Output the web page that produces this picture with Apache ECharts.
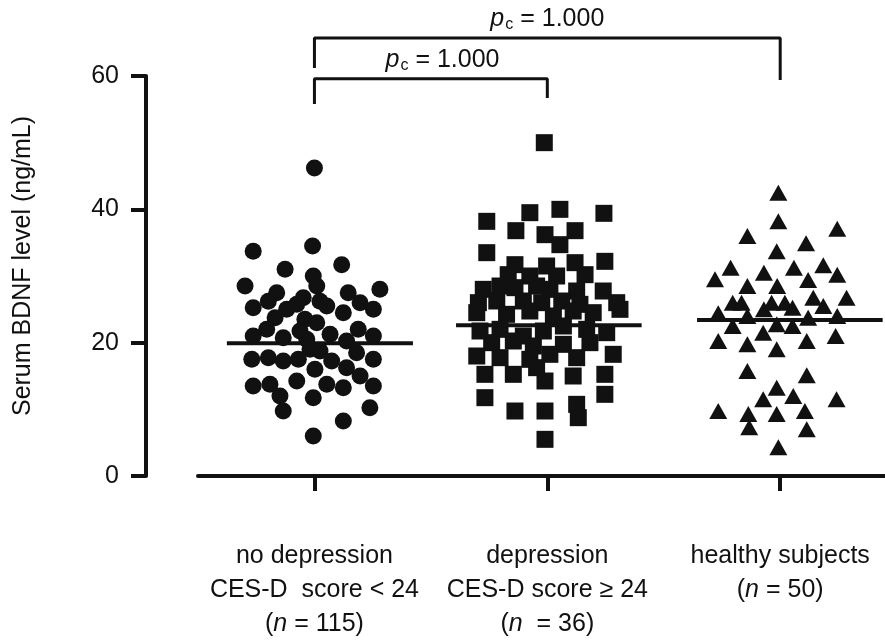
<!DOCTYPE html>
<html><head><meta charset="utf-8">
<script src="https://cdn.jsdelivr.net/npm/echarts@6/dist/echarts.min.js"></script>
<style>html,body{margin:0;padding:0;background:#fff}#c{width:885px;height:641px}</style>
</head><body><div id="c"></div>
<script>
// ---- categories / tick labels ----
const groupLine1 = ['no depression', 'depression', 'healthy subjects'];
const groupLine2 = ['CES-D  score < 24', 'CES-D score \u2265 24', ''];
const groupNText = [' = 115)', '  = 36)', ' = 50)'];
const groupPos = [1, 2, 3];
const yTicks = [0, 20, 40, 60];

// ---- no depression (circles) ----
const g1X = [1.00,0.737,0.992,0.874,1.117,0.702,0.995,1.010,1.281,0.838,1.145,0.952,0.802,0.737,1.196,1.024,1.053,1.253,0.881,0.924,1.124,0.831,0.959,1.010,0.795,0.737,0.866,0.938,1.067,1.188,1.253,1.138,0.967,0.731,0.802,0.866,0.931,0.981,1.024,1.074,1.181,1.253,1.002,1.138,1.196,0.737,0.809,0.924,1.053,1.124,1.253,0.852,0.995,0.866,1.238,1.124,0.995];
const g1Y = [46.2,33.7,34.5,31.0,31.7,28.5,30.0,28.5,28.0,27.5,27.5,26.75,26.2,25.25,26.0,26.2,25.5,25.0,25.0,25.75,24.5,23.75,23.5,23.0,22.0,21.0,20.75,21.75,21.25,22.0,21.0,20.25,20.5,17.5,17.75,17.25,17.5,19.0,18.75,17.25,18.5,17.5,16.0,16.25,15.0,13.5,13.75,14.25,13.75,13.25,13.5,12.0,11.75,9.75,10.25,8.25,6.0];

// ---- depression (squares) ----
const g2X = [1.987,1.740,1.925,2.054,2.243,1.865,1.990,2.119,2.054,1.740,2.247,1.861,1.997,2.119,1.832,1.925,2.040,2.162,1.725,1.797,1.861,1.954,2.011,2.126,2.240,1.704,1.783,1.897,1.976,2.062,2.140,2.298,1.697,1.825,1.925,2.026,2.111,2.197,2.312,1.711,1.797,1.897,1.983,2.069,2.169,2.255,1.761,1.854,1.940,2.069,2.183,1.697,1.797,1.925,2.011,2.126,2.283,1.732,1.854,1.954,1.990,2.111,2.247,1.732,2.247,1.861,1.990,2.126,2.133,1.990];
const g2Y = [50.0,38.2,39.5,40.0,39.4,36.8,36.2,36.8,34.7,33.5,32.2,31.7,31.5,32.0,30.2,30.0,30.0,30.2,28.0,28.5,28.25,28.5,28.0,27.75,27.75,26.0,26.25,26.25,26.0,26.25,25.75,26.0,24.5,24.25,24.75,24.0,24.75,24.5,25.0,21.75,22.0,21.0,21.75,22.5,22.0,21.5,20.0,20.25,19.5,19.75,20.0,18.0,17.75,17.5,18.25,17.75,18.25,15.25,15.25,16.25,14.25,15.0,15.25,11.75,12.25,9.75,9.75,10.75,8.75,5.5];

// ---- healthy subjects (triangles) ----
const g3X = [2.992,2.992,3.245,2.859,3.111,2.985,2.787,3.059,3.185,2.720,2.930,3.245,2.859,2.987,3.120,2.796,2.834,2.930,2.963,3.020,3.053,3.142,3.185,3.285,2.734,2.859,3.120,3.245,2.796,2.985,3.053,2.927,2.734,2.859,2.985,3.114,3.238,2.859,3.114,2.985,2.927,3.056,3.242,2.734,2.863,2.985,3.106,2.867,3.114,2.992];
const g3Y = [42.5,38.2,37.1,36.0,34.9,33.7,31.25,31.25,31.6,29.5,30.5,30.2,28.5,28.5,29.4,26.0,26.0,25.0,26.0,26.0,25.25,26.75,25.5,26.75,24.4,24.0,23.75,24.0,22.5,22.75,22.5,21.5,20.25,19.75,19.0,20.25,21.0,15.75,15.1,13.25,11.5,12.0,11.5,9.75,9.3,9.3,9.75,7.3,7.0,4.3];

// ---- group means (horizontal bars) ----
const meanValues = [19.9, 22.6, 23.4];
const meanStart = [0.624, 1.608, 2.643];
const meanEnd = [1.423, 2.405, 3.44];

// ---- significance brackets ----
const pValues = ['1.000', '1.000'];
const bracketFrom = [1, 1];
const bracketTo = [2, 3];
const bracketTop = [59.6, 65.7];
const bracketLeftEnd = [55.8, 61.2];
const bracketRightEnd = [56.7, 59.4];
const pLabelX = [1.55, 2.0];
const pLabelY = [62.4, 68.6];

const INK = '#111';
const FONT = '"Liberation Sans", Arial, Helvetica, sans-serif';
const FS = 25;

function pts(xs, ys) { return xs.map((x, i) => [x, ys[i]]); }

const series = [];
const mk = { color: INK, opacity: 1 };
series.push({ type: 'scatter', data: pts(g1X, g1Y), symbol: 'circle', symbolSize: 17, itemStyle: mk, z: 2 });
series.push({ type: 'scatter', data: pts(g2X, g2Y), symbol: 'rect', symbolSize: 17, itemStyle: mk, z: 2 });
series.push({ type: 'scatter', data: pts(g3X, g3Y), symbol: 'triangle', symbolSize: [18, 16], itemStyle: mk, z: 2 });

meanValues.forEach((m, i) => {
  series.push({ type: 'line', data: [[meanStart[i], m], [meanEnd[i], m]], symbol: 'none',
    lineStyle: { color: INK, width: 4 }, z: 5, silent: true });
});

pValues.forEach((p, i) => {
  series.push({ type: 'line', clip: false, symbol: 'none', silent: true, z: 5,
    data: [[bracketFrom[i], bracketLeftEnd[i]], [bracketFrom[i], bracketTop[i]],
           [bracketTo[i], bracketTop[i]], [bracketTo[i], bracketRightEnd[i]]],
    lineStyle: { color: INK, width: 3 } });
  series.push({ type: 'scatter', clip: false, silent: true, z: 6,
    data: [[pLabelX[i], pLabelY[i]]], symbolSize: 0.01,
    itemStyle: { color: 'rgba(255,255,255,0)', opacity: 1 },
    label: { show: true, position: 'inside', opacity: 1, color: INK,
      formatter: '{p|p}{c|c}{t| = ' + p + '}',
      rich: {
        p: { fontFamily: FONT, fontSize: FS, fontStyle: 'italic', color: INK },
        c: { fontFamily: FONT, fontSize: 16, color: INK, padding: [12, 0, 0, 1] },
        t: { fontFamily: FONT, fontSize: FS, color: INK }
      } } });
});

const chart = echarts.init(document.getElementById('c'), null, { renderer: 'canvas' });
chart.setOption({
  animation: false,
  backgroundColor: '#fff',
  grid: { left: 198, right: 0, top: 76, bottom: 164, containLabel: false },
  xAxis: {
    type: 'value', min: 0.5, max: 3.45,
    offset: 26,
    splitLine: { show: false },
    axisLine: { show: true, lineStyle: { color: INK, width: 4 } },
    axisTick: { show: true, customValues: groupPos, length: 15, inside: false, lineStyle: { color: INK, width: 4 } },
    axisLabel: {
      customValues: groupPos, margin: 37, color: INK, fontFamily: FONT, fontSize: FS, lineHeight: 34,
      formatter: function (v) {
        const i = Math.round(v) - 1;
        const lines = [];
        lines.push('{t|' + groupLine1[i] + '}');
        if (groupLine2[i]) lines.push('{t|' + groupLine2[i] + '}');
        lines.push('{t|(}{i|n}{t|' + groupNText[i] + '}');
        return lines.join('\n');
      },
      rich: {
        t: { fontFamily: FONT, fontSize: FS, lineHeight: 34, color: INK },
        i: { fontFamily: FONT, fontSize: FS, lineHeight: 34, color: INK, fontStyle: 'italic' }
      }
    }
  },
  yAxis: {
    type: 'value', min: yTicks[0], max: yTicks[yTicks.length - 1], interval: 20,
    offset: 52,
    name: 'Serum BDNF level (ng/mL)', nameLocation: 'middle', nameGap: 110,
    nameTextStyle: { fontFamily: FONT, fontSize: FS, color: INK, padding: [0, 0, 0, 20] },
    splitLine: { show: false },
    axisLine: { show: true, lineStyle: { color: INK, width: 4 } },
    axisTick: { show: true, length: 15, inside: false, lineStyle: { color: INK, width: 4 } },
    axisLabel: { margin: 27, color: INK, fontFamily: FONT, fontSize: FS }
  },
  series: series
});
</script>
</body></html>
